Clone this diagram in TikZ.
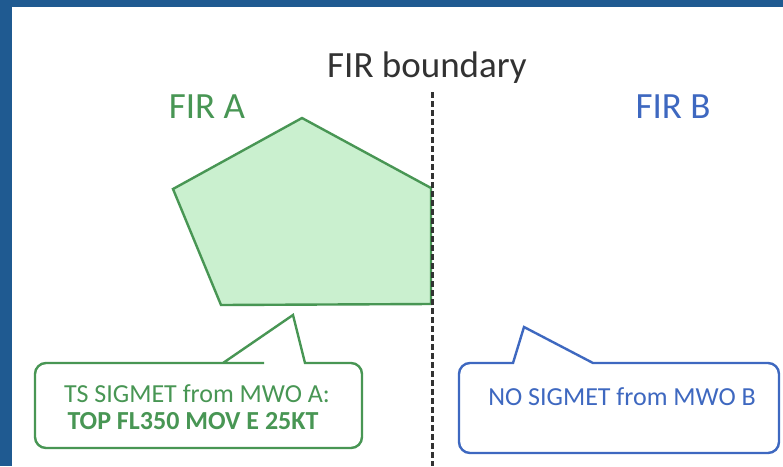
\documentclass[tikz,border=0pt]{standalone}
\usepackage{fontspec}
\setmainfont{Carlito}
\definecolor{framebg}{RGB}{31,90,145}
\definecolor{firgreen}{RGB}{72,150,84}
\definecolor{firgreenfill}{RGB}{202,240,207}
\definecolor{firblue}{RGB}{62,104,192}
\definecolor{bndgray}{RGB}{50,50,50}
\tikzset{
  heading/.style={anchor=base, inner sep=0pt, font=\fontsize{37}{40}\selectfont},
  calltext/.style={anchor=base, inner sep=0pt, font=\fontsize{26}{28}\selectfont},
  boundary/.style={draw=bndgray, line width=3pt, dash pattern=on 6pt off 3pt},
  callA/.style={draw=firgreen, line width=2.4pt, fill=white, line join=miter},
  callB/.style={draw=firblue, line width=2.4pt, fill=white, line join=miter},
}
\begin{document}
\begin{tikzpicture}[x=1pt,y=-1pt]
\useasboundingbox (0,0) rectangle (783,466);
\fill[white] (0,0) rectangle (783,466);
% frame
\fill[framebg] (0,0) rectangle (12,466);
\fill[framebg] (0,0) rectangle (783,7);
% pentagon (FIR A area)
\filldraw[draw=firgreen, fill=firgreenfill, line width=2.4pt, line join=miter]
  (173,189) -- (302,118) -- (431,188) -- (431,304) -- (221,305) -- cycle;
% boundary
\coordinate (btop) at (432,92);
\coordinate (bbot) at (432,466);
\draw[boundary] (btop) -- (bbot);
% headings
\node[heading, text=bndgray] (fb) at (427,77) {FIR boundary};
\node[heading, text=firgreen] (fa) at (207,118) {FIR A};
\node[heading, text=firblue] (fbb) at (673,118) {FIR B};
% callout A
\draw[callA] (264,363) [rounded corners=11pt] -- (35,363) -- (35,448) -- (362,448) -- (362,363) [sharp corners] -- (305,363) -- (293,315) -- (223,363) -- cycle;
\node[calltext, text=firgreen] (ca1) at (197,402) {TS SIGMET from MWO A:};
\node[calltext, text=firgreen, font=\fontsize{26}{28}\selectfont\bfseries] (ca2) at (193,429) {TOP FL350 MOV E 25KT};
% callout B
\draw[callB] (650,363) [rounded corners=11pt] -- (779,363) -- (779,453) -- (459,453) -- (459,363) [sharp corners] -- (513,363) -- (524,327) -- (593,363) -- cycle;
\node[calltext, text=firblue] (cb) at (622,405) {NO SIGMET from MWO B};
\end{tikzpicture}
\end{document}
